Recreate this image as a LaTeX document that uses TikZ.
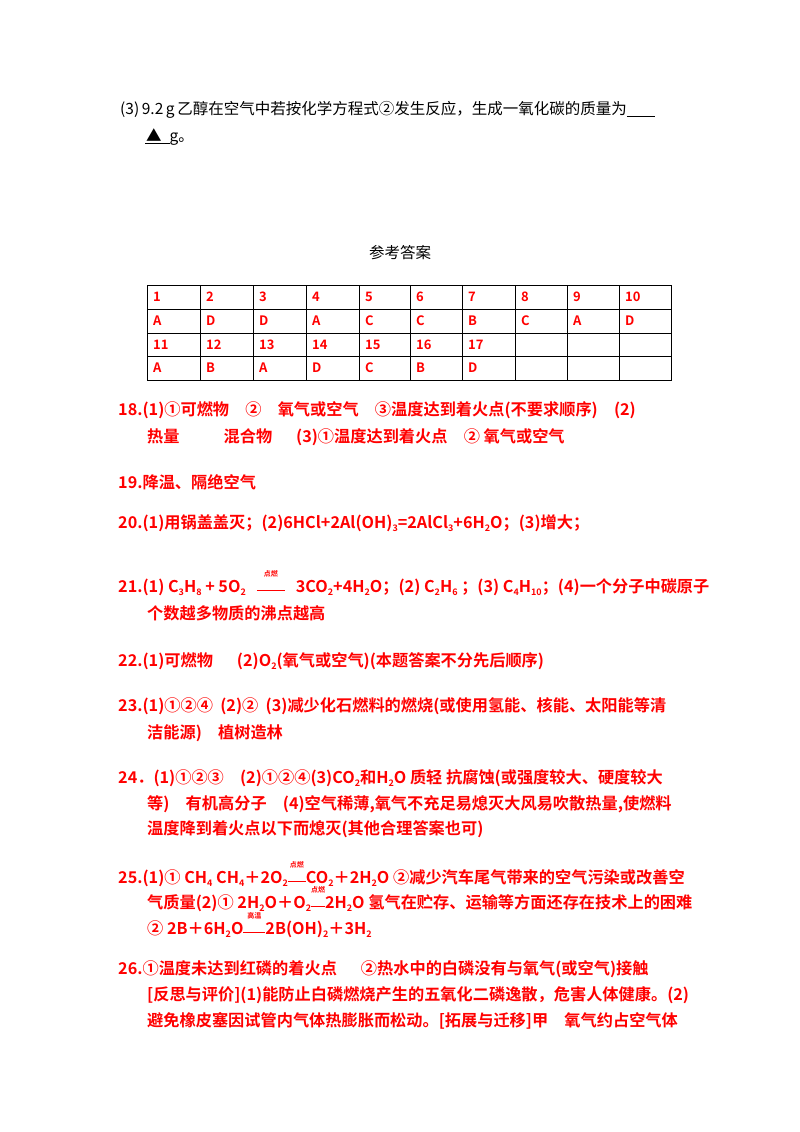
\documentclass[tikz,border=0pt]{standalone}
\usepackage{fontspec}
\setmainfont{Noto Sans CJK SC}
\newfontfamily\cjkb{Noto Sans CJK SC Bold}
\newcommand\chsb[1]{\raisebox{-0.35ex}{\fontsize{9pt}{9pt}\selectfont #1}}
\newcommand\cnd[2]{\raisebox{0.2ex}{\begin{tabular}[b]{@{}c@{}}{\fontsize{7pt}{7pt}\selectfont #1}\\[-3pt]\rule{#2}{0.8pt}\end{tabular}}}
\begin{document}
\begin{tikzpicture}[x=1pt,y=-1pt,
  blk/.style={anchor=west,inner sep=0,font=\fontsize{15.5pt}{16pt}\selectfont},
  ans/.style={anchor=west,inner sep=0,text=red,font=\cjkb\fontsize{16.2pt}{17pt}\selectfont},
  cell/.style={text=red,font=\cjkb\fontsize{13pt}{13pt}\selectfont,anchor=west,inner sep=0}]
\useasboundingbox (0,0) rectangle (800,1132);
\fill[white] (0,0) rectangle (800,1132);
\node[blk] (q1) at (120,110) {(3)\,9.2\,g\,乙醇在空气中若按化学方程式②发生反应，生成一氧化碳的质量为\underline{\hspace{28pt}}};
\node[blk] (q2) at (145,137) {\underline{\hspace{1pt}▲\hspace{8pt}}g。};
\node[blk,anchor=center] (ck) at (400,253) {参考答案};
% table
\draw[black,line width=0.8pt] (147,285) rectangle (671,380);
\foreach \y in {309,333,356} \draw[line width=0.6pt] (147,\y)--(671,\y);
\foreach \x in {200,253,306,359,410,462,515,567,619} \draw[line width=0.6pt] (\x,285)--(\x,380);
\foreach \t [count=\i] in {1,2,3,4,5,6,7,8,9,10} {
  \pgfmathsetmacro\xx{{147,200,253,306,359,410,462,515,567,619}[\i-1]+6}
  \node[cell] (r1c\i) at (\xx,297) {\t};}
\foreach \t [count=\i] in {A,D,D,A,C,C,B,C,A,D} {
  \pgfmathsetmacro\xx{{147,200,253,306,359,410,462,515,567,619}[\i-1]+6}
  \node[cell] (r2c\i) at (\xx,321) {\t};}
\foreach \t [count=\i] in {11,12,13,14,15,16,17} {
  \pgfmathsetmacro\xx{{147,200,253,306,359,410,462,515,567,619}[\i-1]+6}
  \node[cell] (r3c\i) at (\xx,345) {\t};}
\foreach \t [count=\i] in {A,B,A,D,C,B,D} {
  \pgfmathsetmacro\xx{{147,200,253,306,359,410,462,515,567,619}[\i-1]+6}
  \node[cell] (r4c\i) at (\xx,368) {\t};}
% answers
\node[ans] (a18a) at (118,410) {18.(1)①可燃物\quad ②\quad 氧气或空气\quad ③温度达到着火点(不要求顺序)\quad (2)};
\node[ans] (a18b) at (147,437) {热量\hspace{44pt}混合物\hspace{24pt}(3)①温度达到着火点\quad ② 氧气或空气};
\node[ans] (a19) at (118,482) {19.降温、隔绝空气};
\node[ans] (a20) at (118,523) {20.(1)用锅盖盖灭；(2)6HCl+2Al(OH)\chsb{3}=2AlCl\chsb{3}+6H\chsb{2}O；(3)增大；};
\node[ans] (a21a) at (118,580) {21.(1) C\chsb{3}H\chsb{8} + 5O\chsb{2}\ \ \ \cnd{点燃}{28pt}\ \ \ 3CO\chsb{2}+4H\chsb{2}O；(2) C\chsb{2}H\chsb{6} ；(3) C\chsb{4}H\chsb{10}；(4)一个分子中碳原子};
\node[ans] (a21b) at (147,613) {个数越多物质的沸点越高};
\node[ans] (a22) at (118,661) {22.(1)可燃物\hspace{24pt}(2)O\chsb{2}(氧气或空气)(本题答案不分先后顺序)};
\node[ans] (a23a) at (118,706) {23.(1)①②④\ \ (2)②\ \ (3)减少化石燃料的燃烧(或使用氢能、核能、太阳能等清};
\node[ans] (a23b) at (147,733) {洁能源)\quad 植树造林};
\node[ans] (a24a) at (118,778) {24．(1)①②③\quad (2)①②④(3)CO\chsb{2}和H\chsb{2}O 质轻 抗腐蚀(或强度较大、硬度较大};
\node[ans] (a24b) at (147,804) {等)\quad 有机高分子\quad (4)空气稀薄,氧气不充足易熄灭大风易吹散热量,使燃料};
\node[ans] (a24c) at (147,829) {温度降到着火点以下而熄灭(其他合理答案也可)};
\node[ans] (a25a) at (118,871) {25.(1)① CH\chsb{4}\ CH\chsb{4}＋2O\chsb{2}\cnd{点燃}{18pt}CO\chsb{2}＋2H\chsb{2}O ②减少汽车尾气带来的空气污染或改善空};
\node[ans] (a25b) at (147,896) {气质量(2)① 2H\chsb{2}O＋O\chsb{2}\cnd{点燃}{14pt}2H\chsb{2}O 氢气在贮存、运输等方面还存在技术上的困难};
\node[ans] (a25c) at (147,922) {② 2B＋6H\chsb{2}O\cnd{高温}{22pt}2B(OH)\chsb{2}＋3H\chsb{2}};
\node[ans] (a26a) at (118,969) {26.①温度未达到红磷的着火点\hspace{24pt}②热水中的白磷没有与氧气(或空气)接触};
\node[ans] (a26b) at (147,995) {[反思与评价](1)能防止白磷燃烧产生的五氧化二磷逸散，危害人体健康。(2)};
\node[ans] (a26c) at (147,1021) {避免橡皮塞因试管内气体热膨胀而松动。[拓展与迁移]甲\quad 氧气约占空气体};
\end{tikzpicture}
\end{document}
